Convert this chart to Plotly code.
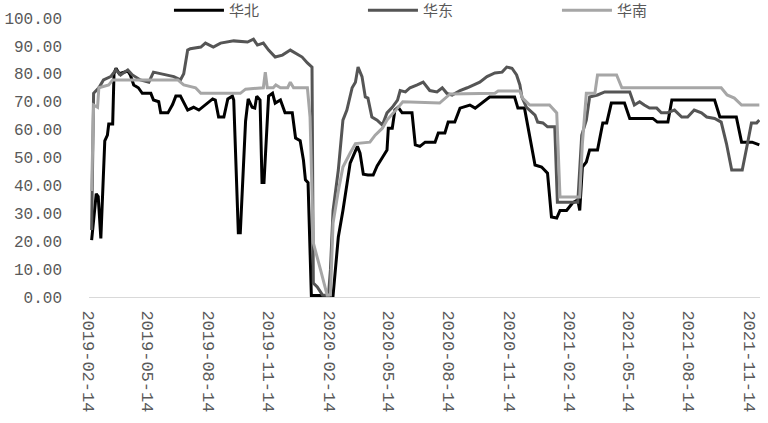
import plotly.graph_objects as go

# ---------------- data ----------------
north_dates = ["2019-02-18","2019-02-25","2019-02-28","2019-03-04","2019-03-10","2019-03-14","2019-03-16","2019-03-22","2019-03-24","2019-03-27",
"2019-04-01","2019-04-14","2019-04-18","2019-04-23","2019-04-30","2019-05-06","2019-05-19","2019-05-23","2019-05-31","2019-06-03",
"2019-06-14","2019-06-21","2019-06-26","2019-07-03","2019-07-14","2019-07-23","2019-07-31","2019-08-13","2019-08-21","2019-08-25",
"2019-08-30","2019-09-07","2019-09-13","2019-09-20","2019-09-22","2019-09-29","2019-10-02","2019-10-10","2019-10-14","2019-10-20",
"2019-10-24","2019-10-27","2019-11-01","2019-11-04","2019-11-07","2019-11-14","2019-11-20","2019-11-24","2019-12-02","2019-12-09",
"2019-12-20","2019-12-25","2020-01-01","2020-01-06","2020-01-09","2020-01-13","2020-01-18","2020-02-20","2020-02-28","2020-03-06",
"2020-03-17","2020-03-28","2020-04-01","2020-04-06","2020-04-13","2020-04-21","2020-04-27","2020-05-05","2020-05-12","2020-05-14",
"2020-05-20","2020-05-24","2020-05-29","2020-06-04","2020-06-19","2020-06-24","2020-07-01","2020-07-09","2020-07-24","2020-07-29",
"2020-08-08","2020-08-13","2020-08-23","2020-08-31","2020-09-15","2020-09-23","2020-10-03","2020-10-15","2020-11-22","2020-11-27",
"2020-12-07","2020-12-15","2020-12-23","2021-01-02","2021-01-11","2021-01-17","2021-01-25","2021-01-30","2021-02-09","2021-02-18",
"2021-02-26","2021-03-01","2021-03-05","2021-03-11","2021-03-16","2021-03-28","2021-04-05","2021-04-11","2021-04-18","2021-05-08",
"2021-05-16","2021-06-20","2021-06-27","2021-07-13","2021-07-19","2021-09-22","2021-09-30","2021-10-25","2021-11-02","2021-11-18",
"2021-11-29"]
north_values = [20.4,37,36,21,56,58,62,62,80,82,
80,81,79.5,76,75,73,73,70.6,70,66,
66,69,72,72,67,68,67,69.5,71,70.6,
64.5,64.5,71,72,70.6,23,23,63,71,68,
67.7,72,70.6,41,41,72,73,69.5,70.6,66,
66,57,56,49,42,41,0.5,0.5,21.5,31,
48,54,51.6,44,43.7,43.7,47,50,52.7,60.5,
60.5,67,68,66,66,54.5,54,55.5,55.5,58.8,
58.8,62.7,62.7,67.7,68.8,67.7,69.5,71.7,71.7,67.7,
67.7,57,47.3,46.6,44.4,28.7,28.3,31,31,33.7,
34.8,31,46.6,48.4,52.7,52.7,62.4,62.4,69.5,69.5,
64,64,62.7,62.7,70.6,70.6,64.5,64.5,55.5,55.5,
54.5]

east_dates = ["2019-02-18","2019-02-21","2019-02-25","2019-03-01","2019-03-08","2019-03-19","2019-03-27","2019-04-03","2019-04-14","2019-04-21",
"2019-05-03","2019-05-16","2019-05-23","2019-06-03","2019-06-23","2019-07-03","2019-07-08","2019-07-14","2019-07-18","2019-08-03",
"2019-08-10","2019-08-22","2019-09-02","2019-09-22","2019-10-13","2019-10-22","2019-10-28","2019-11-06","2019-11-14","2019-11-24",
"2019-12-05","2019-12-17","2019-12-25","2020-01-04","2020-01-12","2020-01-19","2020-01-21","2020-01-27","2020-02-04","2020-02-13",
"2020-02-16","2020-02-20","2020-02-28","2020-03-06","2020-03-12","2020-03-20","2020-03-25","2020-03-29","2020-04-04","2020-04-09",
"2020-04-13","2020-04-19","2020-04-27","2020-05-05","2020-05-12","2020-05-20","2020-05-28","2020-06-01","2020-06-09","2020-06-16",
"2020-06-27","2020-07-06","2020-07-16","2020-07-27","2020-08-04","2020-08-11","2020-08-19","2020-08-31","2020-09-11","2020-09-20",
"2020-09-30","2020-10-11","2020-10-23","2020-11-03","2020-11-10","2020-11-18","2020-11-25","2020-11-30","2020-12-03","2020-12-10",
"2020-12-23","2020-12-27","2021-01-04","2021-01-11","2021-01-22","2021-01-26","2021-02-26","2021-03-04","2021-03-11","2021-03-16",
"2021-03-28","2021-04-08","2021-05-16","2021-05-23","2021-05-31","2021-06-07","2021-06-15","2021-06-26","2021-07-03","2021-07-12",
"2021-07-23","2021-08-03","2021-08-12","2021-08-22","2021-09-02","2021-09-10","2021-09-22","2021-10-02","2021-10-10","2021-10-18",
"2021-11-03","2021-11-11","2021-11-17","2021-11-25","2021-11-29"]
east_values = [24,73,74,75,77.8,79,81.4,79.6,81.4,79.6,
77.8,77,80.6,80,79,77.8,80,88.5,89,89.6,
91,89.6,91,91.8,91.4,92.4,90.3,91,88.5,86,
86.7,88.5,87.5,86,83.9,82.4,5,3.6,0.7,0.5,
9.7,31,45.5,63.4,67,75,77,82.4,79,71.7,
71.3,64.5,63.4,61.6,66,68,70.6,74,73.5,75,
76,77,74,73.5,75,73,72.4,74,75,76,
77,79,80.3,80.6,82.4,82,79.6,76,71.7,68,
65.2,62.7,62.4,61,61,34,34,58,63.4,71.7,
72.4,73.5,73.5,68.8,70,68.8,67.7,67.7,66,66,
67,64.5,64.5,67,66,64.5,64,62.7,55,45.5,
45.5,55,62.4,62.4,63.4]

south_dates = ["2019-02-18","2019-02-21","2019-02-27","2019-03-01","2019-03-16","2019-03-22","2019-06-29","2019-07-08","2019-07-26","2019-08-03",
"2019-10-02","2019-10-10","2019-11-06","2019-11-09","2019-11-12","2019-11-21","2019-11-25","2019-12-02","2019-12-13","2019-12-17",
"2019-12-22","2020-01-12","2020-01-16","2020-01-21","2020-02-01","2020-02-11","2020-02-16","2020-02-20","2020-02-28","2020-03-06",
"2020-03-17","2020-03-25","2020-04-16","2020-04-24","2020-05-05","2020-05-12","2020-05-28","2020-06-05","2020-07-31","2020-08-08",
"2020-08-16","2020-10-23","2020-10-28","2020-11-30","2020-12-04","2020-12-15","2021-01-14","2021-01-25","2021-01-30","2021-03-01",
"2021-03-05","2021-03-11","2021-03-24","2021-03-28","2021-04-26","2021-05-04","2021-10-02","2021-10-11","2021-10-22","2021-11-02",
"2021-11-29"]
south_values = [38,68.8,68,75,76,77.8,77.8,76,75,73,
73,74.5,75,80.6,75,75,76,75,75,77,
75,75,64.5,19.4,9.7,0.7,0.7,26.5,38,46.6,
51.6,55,55.5,58,60.5,63.4,67.7,70,69.5,71.3,
72.8,73,73.8,73.8,71.3,68.8,68.8,66,35.8,35.8,
55,73,73,79.6,79.6,75,75,72.4,71.3,68.8,
68.8]

series_names = ["华北", "华东", "华南"]
tick_dates = ["2019-02-14","2019-05-14","2019-08-14","2019-11-14","2020-02-14","2020-05-14",
              "2020-08-14","2020-11-14","2021-02-14","2021-05-14","2021-08-14","2021-11-14"]
y_ticks = [0, 10, 20, 30, 40, 50, 60, 70, 80, 90, 100]
y_ticktext = ["%.2f" % v for v in y_ticks]

# ---------------- figure ----------------
colors = ["#000000", "#555555", "#a6a6a6"]
fig = go.Figure()
for name, xs, ys, c in zip(series_names,
                           [north_dates, east_dates, south_dates],
                           [north_values, east_values, south_values],
                           colors):
    fig.add_trace(go.Scatter(x=xs, y=ys, mode="lines", name=name,
                             line=dict(color=c, width=3), cliponaxis=False))

y_font = dict(family="Liberation Mono", size=16, color="#595959")
x_font = dict(family="Liberation Mono", size=17, color="#595959")
fig.update_layout(
    width=768, height=423,
    margin=dict(l=89, r=8, t=18, b=126, autoexpand=False),
    paper_bgcolor="white", plot_bgcolor="white",
    showlegend=True,
    legend=dict(orientation="h", xref="container", x=0.220, xanchor="left",
                yref="container", y=0.975, yanchor="middle",
                font=dict(family="Noto Sans CJK SC", size=15, color="#595959"),
                itemwidth=50, entrywidth=129, entrywidthmode="pixels",
                bgcolor="rgba(0,0,0,0)"),
    xaxis=dict(type="date", range=["2019-02-14", "2021-11-30"], automargin=False,
               tickvals=tick_dates, ticktext=tick_dates, tickangle=90,
               tickfont=x_font, showgrid=False, zeroline=False,
               showline=True, linecolor="#d9d9d9", linewidth=1, ticks="",
               ticklabelstandoff=9),
    yaxis=dict(range=[0, 100], tickvals=y_ticks, ticktext=y_ticktext, automargin=False,
               tickfont=y_font, showgrid=False, zeroline=False,
               showline=False, ticks="", ticklabelstandoff=26),
)

fig.write_html("out.html", config={"displayModeBar": False},
               post_script="document.body.style.margin='0';document.body.style.overflow='hidden';")
